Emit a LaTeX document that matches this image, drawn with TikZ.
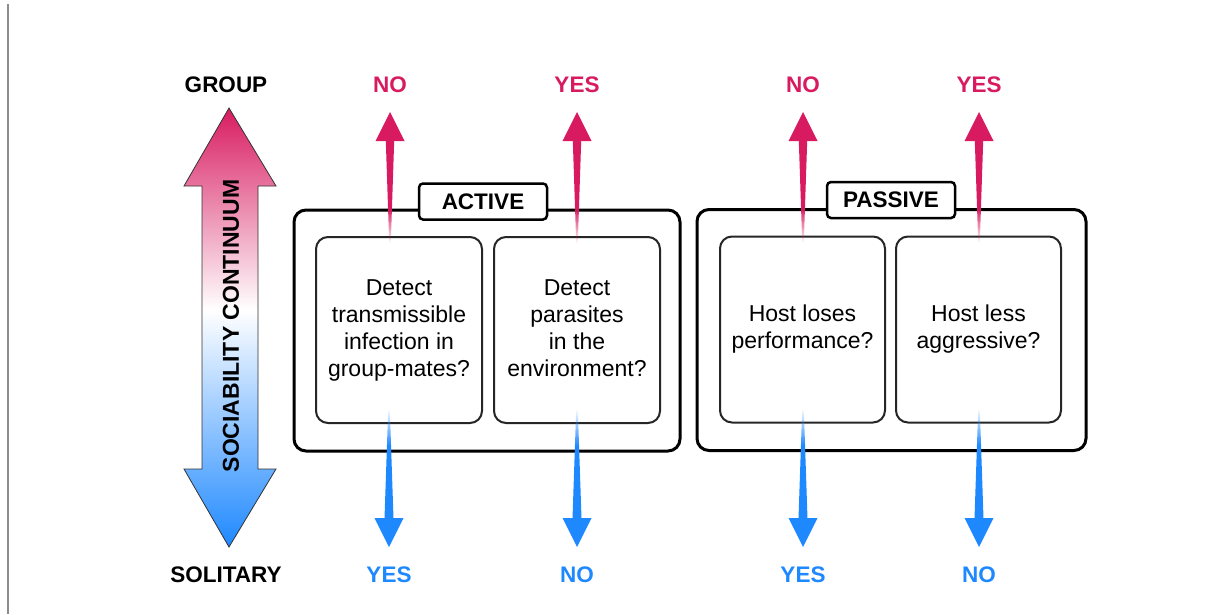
\documentclass[tikz,border=0pt]{standalone}
\usepackage{fontspec}
\setmainfont{Liberation Sans}
\usetikzlibrary{calc,fadings}
\definecolor{pinkc}{HTML}{D81B60}
\definecolor{bluec}{HTML}{1E88FF}
\pgfdeclareverticalshading{fbsh}{100bp}{color(0bp)=(black); color(25bp)=(black); color(42bp)=(white); color(100bp)=(white)}
\pgfdeclareverticalshading{ftsh}{100bp}{color(0bp)=(white); color(58bp)=(white); color(75bp)=(black); color(100bp)=(black)}
\pgfdeclarefading{fadebot}{\pgfuseshading{fbsh}}
\pgfdeclarefading{fadetop}{\pgfuseshading{ftsh}}
\pgfdeclareverticalshading{sociab}{100bp}{color(0bp)=(bluec); color(25bp)=(bluec); color(52bp)=(white); color(75bp)=(pinkc); color(100bp)=(pinkc)}
\newcommand\myuparrow[3]{%
  \coordinate (tip) at ($(#1.center)+(0,27)$);
  \coordinate (bot) at ($(tip |- #2.north)+(0,7)$);
  \fill[#3, path fading=fadebot] ($(tip)+(-4.2,28.5)$) -- ($(tip)+(4.2,28.5)$) -- ($(bot)+(0.8,0)$) -- ($(bot)+(-0.8,0)$) -- cycle;
  \fill[#3] ($(tip)+(-14.5,29)$) -- (tip) -- ($(tip)+(14.5,29)$) -- cycle;
}
\newcommand\mydownarrow[3]{%
  \coordinate (tip) at ($(#1.center)+(0,-28)$);
  \coordinate (top) at ($(tip |- #2.south)+(0,-15)$);
  \fill[#3, path fading=fadetop] ($(top)+(-0.8,0)$) -- ($(top)+(0.8,0)$) -- ($(tip)+(4.5,-28.5)$) -- ($(tip)+(-4.5,-28.5)$) -- cycle;
  \fill[#3] ($(tip)+(-14.5,-29)$) -- (tip) -- ($(tip)+(14.5,-29)$) -- cycle;
}
\begin{document}
\begin{tikzpicture}[x=1pt,y=-1pt,
  outerbox/.style={draw=black, line width=3pt, rounded corners=12pt, minimum height=241pt, inner sep=0pt},
  innerbox/.style={draw=black!85, line width=2pt, rounded corners=12pt, minimum width=165pt, minimum height=186pt, inner sep=0pt, align=center, font=\fontsize{23}{27}\selectfont},
  labelbox/.style={draw=black, fill=white, line width=2.5pt, rounded corners=4pt, minimum width=128pt, minimum height=36pt, inner sep=0pt, font=\fontsize{22.5}{26}\selectfont\bfseries},
  toplab/.style={font=\fontsize{22.5}{26}\selectfont\bfseries, text=pinkc, inner sep=0pt},
  botlab/.style={font=\fontsize{22.5}{26}\selectfont\bfseries, text=bluec, inner sep=0pt},
  endlab/.style={font=\fontsize{22.5}{26}\selectfont\bfseries, inner sep=0pt}
]
\useasboundingbox (0,0) rectangle (1221,614);
\fill[white] (0,0) rectangle (1221,614);
\draw[black!45, line width=1.2pt] (8,4) -- (8,614);

% sociability continuum arrow
\shadedraw[shading=sociab, draw=black!80, line width=0.8pt]
  (229,108) -- (276,186) -- (258,186) -- (258,469) -- (276,469) -- (229,547)
  -- (184,469) -- (202,469) -- (202,186) -- (184,186) -- cycle;
\node[rotate=90, font=\fontsize{23}{26}\selectfont\bfseries, inner sep=0pt] (soc) at (231,326) {SOCIABILITY CONTINUUM};
\node[endlab] (group) at (226,85) {GROUP};
\node[endlab] (solitary) at (226,575) {SOLITARY};

% outer boxes
\node[outerbox, minimum width=386pt] (actbox) at (487,330.5) {};
\node[outerbox, minimum width=389pt] (pasbox) at (891.5,330) {};
\node[labelbox] (actlab) at (483,201.5) {ACTIVE};
\node[labelbox] (paslab) at (891,200) {PASSIVE};

% inner boxes
\node[innerbox, minimum width=166pt] (q1) at (399,330) {Detect\\transmissible\\infection in\\group-mates?};
\node[innerbox, minimum width=166pt] (q2) at (577,330) {Detect\\parasites\\in the\\environment?\vphantom{g}};
\node[innerbox] (q3) at (802.5,329.5) {Host loses\\performance?};
\node[innerbox] (q4) at (978.5,329.5) {Host less\\aggressive?};

% labels
\node[toplab] (t1) at (390,85) {NO};
\node[toplab] (t2) at (577,85) {YES};
\node[toplab] (t3) at (803,85) {NO};
\node[toplab] (t4) at (979,85) {YES};
\node[botlab] (b1) at (389,575) {YES};
\node[botlab] (b2) at (577,575) {NO};
\node[botlab] (b3) at (803,575) {YES};
\node[botlab] (b4) at (979,575) {NO};

% arrows
\myuparrow{t1}{q1}{pinkc}
\myuparrow{t2}{q2}{pinkc}
\myuparrow{t3}{q3}{pinkc}
\myuparrow{t4}{q4}{pinkc}
\mydownarrow{b1}{q1}{bluec}
\mydownarrow{b2}{q2}{bluec}
\mydownarrow{b3}{q3}{bluec}
\mydownarrow{b4}{q4}{bluec}
\end{tikzpicture}
\end{document}
